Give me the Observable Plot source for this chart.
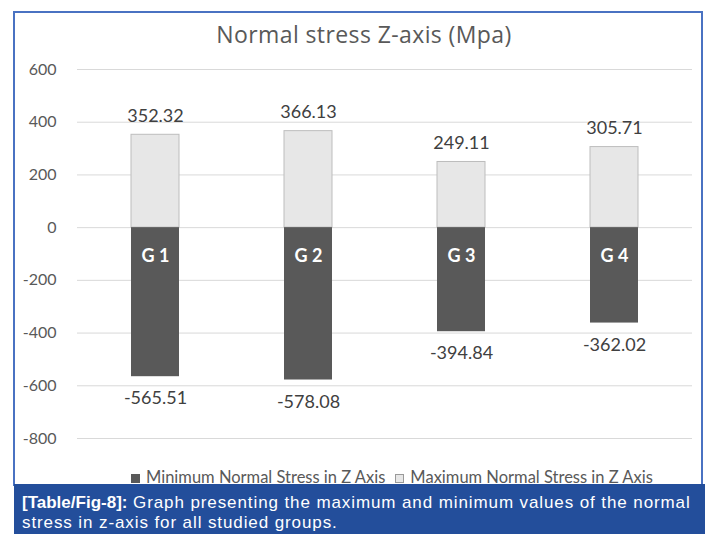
<!DOCTYPE html>
<html>
<head>
<meta charset="utf-8">
<script src="https://cdn.jsdelivr.net/npm/d3@7"></script>
<script src="https://cdn.jsdelivr.net/npm/@observablehq/plot@0.6"></script>
<style>
  html, body { margin: 0; padding: 0; background: #fff; }
  #page { position: relative; width: 705px; height: 534px; overflow: hidden; background: #fff; }
  #frame { position: absolute; left: 13px; top: 11px; width: 690px; height: 475px;
           border-left: 2px solid #4a72c2; border-top: 2px solid #4a72c2; border-right: 2px solid #4a72c2; box-sizing: border-box; }
  #title { position: absolute; left: 14px; width: 700px; top: 18px; text-align: center;
           font-family: "Open Sans", sans-serif; font-size: 23px; letter-spacing: 0.4px; color: #595959; }
  #chart { position: absolute; left: 14px; top: 50px; }
  #legend { position: absolute; left: 131px; top: 469px; line-height: 17px;
            font-family: Lato, sans-serif; font-size: 16.5px; color: #595959; white-space: nowrap; }
  #legend .sw { display: inline-block; width: 9px; height: 9px; margin-right: 6px; vertical-align: 0px; box-sizing: border-box; }
  #caption { position: absolute; left: 14px; top: 484px; width: 691px; height: 50px; background: #234e9b;
             color: #fff; font-family: "Liberation Sans", Arial, sans-serif; font-size: 17px; line-height: 20px;
             padding: 9px 6px 0 8px; box-sizing: border-box; overflow: hidden; }
  #caption div { white-space: nowrap; }
  #caption b { font-weight: bold; letter-spacing: 0; }
  #caption span { letter-spacing: 0.9px; }
</style>
</head>
<body>
<div id="page">
  <div id="frame"></div>
  <div id="title">Normal stress Z-axis (Mpa)</div>
  <div id="chart"></div>
  <div id="legend"></div>
  <div id="caption">
    <div><b>[Table/Fig-8]:</b><span>&nbsp;Graph presenting the maximum and minimum values of the normal</span></div>
    <div><span>stress in z-axis for all studied groups.</span></div>
  </div>
</div>
<script>
const groups = ["G 1", "G 2", "G 3", "G 4"];
const minValues = [-565.51, -578.08, -394.84, -362.02];
const maxValues = [352.32, 366.13, 249.11, 305.71];
const yTicks = [600, 400, 200, 0, -200, -400, -600, -800];
const seriesNames = ["Minimum Normal Stress in Z Axis", "Maximum Normal Stress in Z Axis"];
const seriesColors = ["#595959", "#e7e7e7"];

const idx = groups.map((_, i) => i);
const fmt = v => v.toFixed(2);

const chart = Plot.plot({
  width: 687,
  height: 420,
  marginTop: 19,
  marginBottom: 32,
  marginLeft: 63,
  marginRight: 9,
  style: { fontFamily: "Lato, sans-serif", background: "transparent" },
  x: { domain: groups, paddingInner: 0.688, paddingOuter: 0.344, axis: null },
  y: { domain: [-800, 600], axis: null },
  marks: [
    Plot.ruleY(yTicks, { stroke: "#d9d9d9", strokeWidth: 1 }),
    Plot.barY(idx, { x: i => groups[i], y: i => maxValues[i], fill: seriesColors[1], stroke: "#bdbdbd", strokeWidth: 1 }),
    Plot.barY(idx, { x: i => groups[i], y: i => minValues[i], fill: seriesColors[0] }),
    Plot.text(idx, { x: i => groups[i], y: i => maxValues[i], text: i => fmt(maxValues[i]),
      lineAnchor: "bottom", dy: -13, fontSize: 18, fill: "#404040" }),
    Plot.text(idx, { x: i => groups[i], y: i => minValues[i], text: i => fmt(minValues[i]),
      lineAnchor: "top", dy: 15, fontSize: 18, fill: "#404040" }),
    Plot.text(idx, { x: i => groups[i], y: () => 0, text: i => groups[i],
      lineAnchor: "middle", dy: 29, fontSize: 18, fontWeight: "bold", fill: "#ffffff" }),
    Plot.axisY(yTicks, { tickSize: 0, tickPadding: 21, fontSize: 16, color: "#595959", label: null, tickFormat: d => String(d) })
  ]
});
document.getElementById("chart").appendChild(chart);

const legend = document.getElementById("legend");
seriesNames.forEach((name, i) => {
  const item = document.createElement("span");
  item.style.marginRight = i === 0 ? "10px" : "0";
  const sw = document.createElement("span");
  sw.className = "sw";
  sw.style.background = seriesColors[i];
  if (i === 1) sw.style.border = "1px solid #9a9a9a";
  item.appendChild(sw);
  item.appendChild(document.createTextNode(name));
  legend.appendChild(item);
});
</script>
</body>
</html>
